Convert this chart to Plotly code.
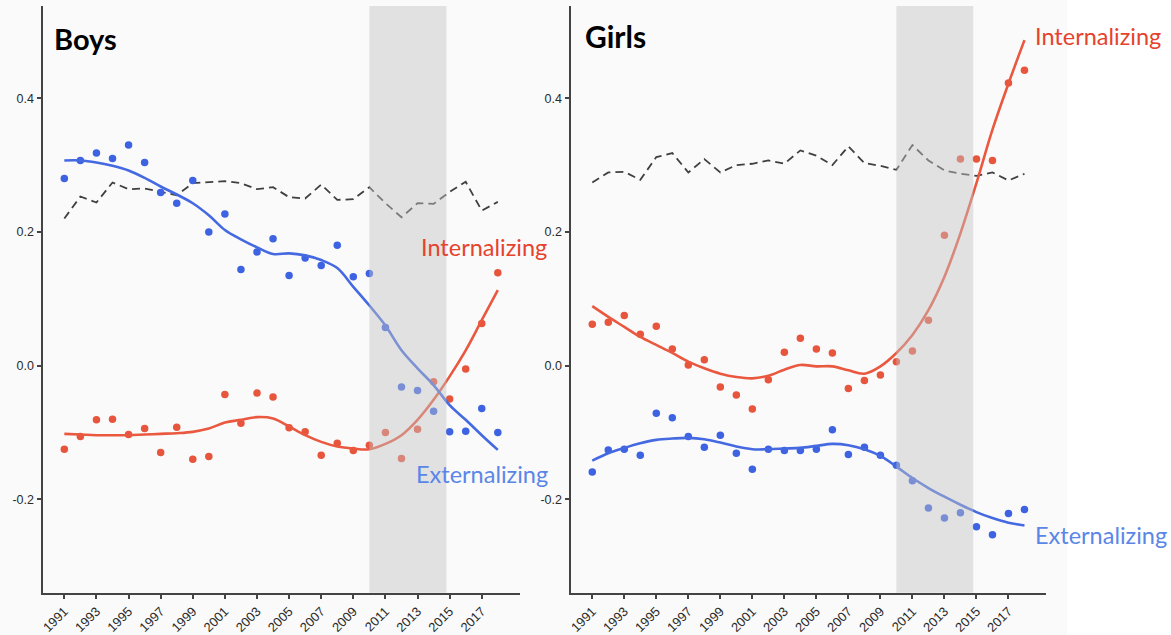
import plotly.graph_objects as go

years = list(range(1991, 2019))

# Boys
boys_ext_pts = [0.280, 0.307, 0.318, 0.310, 0.330, 0.304, 0.259, 0.243, 0.277, 0.200,
                0.227, 0.144, 0.170, 0.190, 0.135, 0.161, 0.150, 0.180, 0.133, 0.138,
                0.057, -0.032, -0.037, -0.068, -0.099, -0.098, -0.064, -0.100]
boys_ext_fit = [0.307, 0.307, 0.304, 0.299, 0.292, 0.281, 0.268, 0.256, 0.243, 0.225,
                0.203, 0.189, 0.177, 0.167, 0.168, 0.165, 0.158, 0.146, 0.118, 0.090,
                0.060, 0.023, -0.004, -0.029, -0.059, -0.081, -0.104, -0.126]
boys_int_pts = [-0.125, -0.106, -0.081, -0.080, -0.103, -0.094, -0.130, -0.092, -0.140, -0.136,
                -0.043, -0.086, -0.041, -0.047, -0.093, -0.099, -0.134, -0.116, -0.127, -0.119,
                -0.100, -0.139, -0.095, -0.024, -0.050, -0.005, 0.063, 0.139]
boys_int_fit = [-0.102, -0.103, -0.104, -0.104, -0.104, -0.103, -0.102, -0.101, -0.099, -0.094,
                -0.085, -0.081, -0.077, -0.079, -0.091, -0.104, -0.114, -0.121, -0.124, -0.125,
                -0.117, -0.104, -0.081, -0.051, -0.016, 0.023, 0.068, 0.113]
boys_ref = [0.220, 0.253, 0.244, 0.274, 0.264, 0.265, 0.260, 0.255, 0.273, 0.274,
            0.276, 0.273, 0.264, 0.267, 0.252, 0.250, 0.271, 0.248, 0.249, 0.267,
            0.243, 0.222, 0.243, 0.242, 0.260, 0.275, 0.232, 0.245]

# Girls
girls_ext_pts = [-0.159, -0.126, -0.125, -0.134, -0.071, -0.078, -0.106, -0.122, -0.104, -0.131,
                 -0.155, -0.125, -0.127, -0.127, -0.125, -0.096, -0.133, -0.122, -0.134, -0.149,
                 -0.172, -0.213, -0.228, -0.220, -0.241, -0.253, -0.221, -0.215]
girls_ext_fit = [-0.142, -0.131, -0.123, -0.116, -0.111, -0.109, -0.108, -0.110, -0.115, -0.121,
                 -0.125, -0.125, -0.124, -0.123, -0.120, -0.117, -0.119, -0.125, -0.135, -0.151,
                 -0.168, -0.183, -0.196, -0.208, -0.219, -0.228, -0.235, -0.239]
girls_int_pts = [0.062, 0.065, 0.075, 0.047, 0.059, 0.025, 0.001, 0.009, -0.032, -0.044,
                 -0.065, -0.021, 0.020, 0.041, 0.025, 0.019, -0.034, -0.022, -0.014, 0.006,
                 0.022, 0.068, 0.195, 0.309, 0.309, 0.307, 0.423, 0.442]
girls_int_fit = [0.089, 0.073, 0.058, 0.043, 0.031, 0.019, 0.006, -0.004, -0.012, -0.017,
                 -0.019, -0.015, -0.006, 0.001, -0.001, -0.001, -0.007, -0.012, -0.001, 0.019,
                 0.046, 0.083, 0.133, 0.198, 0.273, 0.353, 0.422, 0.487]
girls_ref = [0.274, 0.289, 0.290, 0.278, 0.312, 0.318, 0.289, 0.309, 0.289, 0.300,
             0.302, 0.307, 0.302, 0.322, 0.314, 0.300, 0.328, 0.303, 0.299, 0.293,
             0.330, 0.307, 0.292, 0.287, 0.284, 0.289, 0.277, 0.287]

tick_years = list(range(1991, 2018, 2))
tick_labels = [str(y) for y in tick_years]
y_ticks = [-0.2, 0.0, 0.2, 0.4]
y_tick_labels = ["-0.2", "0.0", "0.2", "0.4"]
shade_period = [2010.0, 2014.8]

W, H = 1171, 635
RED_PT, BLUE_PT = "#E8553D", "#3D63E2"
RED_LN, BLUE_LN = "#E9583F", "#4469E0"
RED_TX, BLUE_TX = "#E5432D", "#5A86E8"

fig = go.Figure()

panels = [
    ("x", "y", boys_ext_pts, boys_ext_fit, boys_int_pts, boys_int_fit, boys_ref),
    ("x2", "y2", girls_ext_pts, girls_ext_fit, girls_int_pts, girls_int_fit, girls_ref),
]
for xa, ya, ep, ef, ip, ifit, ref in panels:
    fig.add_trace(go.Scatter(x=years, y=ref, mode="lines", xaxis=xa, yaxis=ya,
                             line=dict(color="#404040", width=1.8, dash="8px,5px"),
                             showlegend=False, hoverinfo="skip"))
    fig.add_trace(go.Scatter(x=years, y=ep, mode="markers", xaxis=xa, yaxis=ya,
                             marker=dict(color=BLUE_PT, size=7.5), showlegend=False))
    fig.add_trace(go.Scatter(x=years, y=ip, mode="markers", xaxis=xa, yaxis=ya,
                             marker=dict(color=RED_PT, size=7.5), showlegend=False))
    fig.add_trace(go.Scatter(x=years, y=ifit, mode="lines", xaxis=xa, yaxis=ya,
                             line=dict(color=RED_LN, width=2.6, shape="spline", smoothing=1.0),
                             showlegend=False))
    fig.add_trace(go.Scatter(x=years, y=ef, mode="lines", xaxis=xa, yaxis=ya,
                             line=dict(color=BLUE_LN, width=2.6, shape="spline", smoothing=1.0),
                             showlegend=False))

x_range = [1989.64, 2019.37]
y_range = [-0.3396, 0.538]
ydom = [1 - 592.7 / H, 1 - 6 / H]

axis_common = dict(showgrid=False, zeroline=False, showline=True, linecolor="#444",
                   linewidth=2, ticks="outside", ticklen=4, tickwidth=1.5, tickcolor="#444",
                   automargin=False)
x_common = dict(axis_common, range=x_range, tickvals=tick_years, ticktext=tick_labels,
                tickangle=-45, tickfont=dict(family="Liberation Sans", size=13, color="#2a2a2a"))
y_common = dict(axis_common, range=y_range, domain=ydom, tickvals=y_ticks,
                ticktext=y_tick_labels,
                tickfont=dict(family="Liberation Sans", size=12.5, color="#2a2a2a"))

fig.update_layout(
    width=W, height=H,
    margin=dict(l=0, r=0, t=0, b=0, autoexpand=False),
    paper_bgcolor="white", plot_bgcolor="rgba(0,0,0,0)",
    xaxis=dict(x_common, domain=[42.5 / W, 519.8 / W], anchor="y"),
    yaxis=dict(y_common, anchor="x"),
    xaxis2=dict(x_common, domain=[570.5 / W, 1046.4 / W], anchor="y2"),
    yaxis2=dict(y_common, anchor="x2"),
)

shapes = [dict(type="rect", xref="paper", yref="paper", x0=0, x1=1067 / W, y0=0, y1=1,
               fillcolor="#fafafa", line=dict(width=0), layer="below")]
for xr, yr in [("x", "y domain"), ("x2", "y2 domain")]:
    shapes.append(dict(type="rect", xref=xr, yref=yr, x0=shade_period[0], x1=shade_period[1],
                       y0=0, y1=1, fillcolor="rgba(195,195,195,0.45)", line=dict(width=0),
                       layer="above"))
fig.update_layout(shapes=shapes)

def ann(text, px, py, color, size, bold=False):
    return dict(text=f"<b>{text}</b>" if bold else text, xref="paper", yref="paper",
                x=px / W, y=1 - py / H, xanchor="left", yanchor="middle", showarrow=False,
                font=dict(family="Lato", size=size, color=color))

fig.update_layout(annotations=[
    ann("Boys", 52, 38, "black", 29, bold=True),
    ann("Girls", 583, 36, "black", 30, bold=True),
    ann("Internalizing", 419, 247, RED_TX, 23.5),
    ann("Externalizing", 414, 474, BLUE_TX, 23.5),
    ann("Internalizing", 1033, 36, RED_TX, 23.5),
    ann("Externalizing", 1033, 535, BLUE_TX, 23.5),
])

fig.write_html("out.html")
